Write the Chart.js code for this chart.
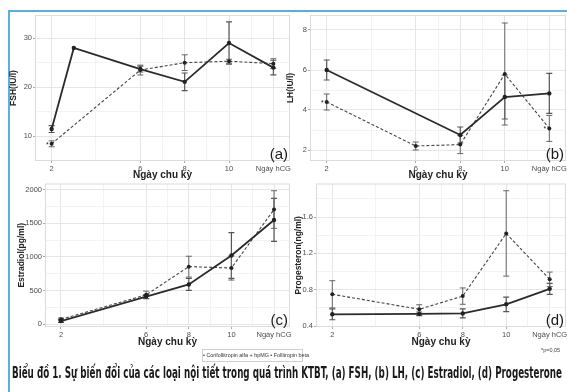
<!DOCTYPE html>
<html lang="vi">
<head>
    <meta charset="UTF-8">
    <title>Biểu đồ 1</title>
    <script src="https://cdn.jsdelivr.net/npm/chart.js"></script>
    <style>
        html, body {
            margin: 0;
            padding: 0;
            width: 567px;
            height: 392px;
            overflow: hidden;
            background: #fff;
            font-family: "Liberation Sans", Arial, sans-serif;
        }
        .frame {
            position: absolute;
            left: 8px;
            top: 10px;
            width: 600px;
            height: 400px;
            border-top: 2px solid #5aaee3;
            border-left: 2px solid #5aaee3;
        }
        canvas { position: absolute; }
        .legend {
            position: absolute;
            left: 202px;
            top: 349px;
            width: 99px;
            height: 11px;
            border: 1px solid #cfcfcf;
            font-size: 5.4px;
            line-height: 11px;
            text-align: center;
            color: #333;
            white-space: nowrap;
        }
        .pnote {
            position: absolute;
            left: 541px;
            top: 347px;
            font-size: 5.5px;
            color: #444;
            white-space: nowrap;
        }
        .caption {
            position: absolute;
            left: 12px;
            top: 364px;
            font-family: "DejaVu Sans Condensed", "Liberation Sans Narrow", sans-serif;
            font-weight: bold;
            font-size: 15px;
            color: #1a1a1a;
            white-space: nowrap;
            transform-origin: 0 0;
        }
    </style>
</head>
<body>
    <div class="frame"></div>
    <canvas id="fshChart" width="300" height="185" style="left:0;top:0"></canvas>
    <canvas id="lhChart" width="290" height="185" style="left:280px;top:0"></canvas>
    <canvas id="e2Chart" width="300" height="170" style="left:0;top:178px"></canvas>
    <canvas id="p4Chart" width="290" height="170" style="left:280px;top:178px"></canvas>

    <div class="legend">• Corifollitropin alfa + hpMG • Follitropin beta</div>
    <div class="pnote">*p=0,05</div>
    <div class="caption" id="caption">Biểu đồ 1. Sự biến đổi của các loại nội tiết trong quá trình KTBT, (a) FSH, (b) LH, (c) Estradiol, (d) Progesterone</div>

    <script>
        // x axis: days of the cycle, hCG day placed at 12
        const dayTicks = [2, 6, 8, 10, 12];
        const dayLabels = ['2', '6', '8', '10', 'Ngày hCG'];
        const dayMinor = [4, 7, 9, 11];

        // (a) FSH
        const fshSolidX = [2, 3, 6, 8, 10, 12];
        const fshSolid = [11.5, 28, 23.7, 21.1, 29.0, 24.0];
        const fshSolidErr = [0.7, null, 0.6, 1.8, 4.3, 1.5];
        const fshDashX = [2, 6, 8, 10, 12];
        const fshDash = [8.5, 23.5, 25.0, 25.3, 24.8];
        const fshDashErr = [0.6, 1.0, 1.6, 0.4, 1.0];
        const fshSig = [2];

        // (b) LH
        const lhSolidX = [2, 8, 10, 12];
        const lhSolid = [6.0, 2.75, 4.65, 4.83];
        const lhSolidErr = [0.5, 0.4, 1.1, 1.0];
        const lhDashX = [2, 6, 8, 10, 12];
        const lhDash = [4.4, 2.2, 2.27, 5.8, 3.08];
        const lhDashErr = [0.4, 0.2, 0.45, 2.55, 0.65];
        const lhSig = [2, 12];

        // (c) Estradiol
        const e2SolidX = [2, 6, 8, 10, 12];
        const e2Solid = [45, 410, 590, 1020, 1550];
        const e2SolidErr = [20, 30, 90, 340, 320];
        const e2DashX = [2, 6, 8, 10, 12];
        const e2Dash = [70, 435, 855, 835, 1705];
        const e2DashErr = [20, 55, 155, 180, 280];

        // (d) Progesterone
        const p4SolidX = [2, 6, 8, 10, 12];
        const p4Solid = [0.53, 0.535, 0.54, 0.64, 0.81];
        const p4SolidErr = [0.06, 0.02, 0.05, 0.08, 0.06];
        const p4DashX = [2, 6, 8, 10, 12];
        const p4Dash = [0.75, 0.585, 0.73, 1.42, 0.915];
        const p4DashErr = [0.15, 0.05, 0.09, 0.47, 0.08];

        const tickColor = '#4d4d4d';
        const majorGrid = '#e6e6e6';
        const minorGrid = '#f3f3f3';

        const toPoints = (xs, ys) => xs.map((x, i) => ({ x: x, y: ys[i] }));

        // error bars, significance stars, panel border and panel letter
        const panelExtras = {
            id: 'panelExtras',
            beforeDatasetsDraw(chart) {
                const { ctx, chartArea: a, scales } = chart;
                ctx.save();
                ctx.strokeStyle = '#dcdcdc';
                ctx.lineWidth = 1;
                ctx.strokeRect(a.left + 0.5, a.top + 0.5, a.right - a.left - 1, a.bottom - a.top - 1);
                chart.data.datasets.forEach((ds) => {
                    if (!ds.err) return;
                    ctx.strokeStyle = ds.errColor;
                    ctx.lineWidth = ds.errWidth;
                    ds.data.forEach((p, i) => {
                        const e = ds.err[i];
                        if (e == null) return;
                        const px = scales.x.getPixelForValue(p.x);
                        const lo = scales.y.getPixelForValue(p.y - e);
                        const hi = scales.y.getPixelForValue(p.y + e);
                        ctx.beginPath();
                        ctx.moveTo(px, lo); ctx.lineTo(px, hi);
                        ctx.moveTo(px - 3, lo); ctx.lineTo(px + 3, lo);
                        ctx.moveTo(px - 3, hi); ctx.lineTo(px + 3, hi);
                        ctx.stroke();
                    });
                });
                ctx.restore();
            },
            afterDatasetsDraw(chart, args, opts) {
                const { ctx, chartArea: a, scales } = chart;
                ctx.save();
                ctx.fillStyle = '#222';
                ctx.font = '7px "Liberation Sans", Arial';
                ctx.textAlign = 'right';
                ctx.textBaseline = 'middle';
                chart.data.datasets.forEach((ds) => {
                    (ds.sig || []).forEach((sx) => {
                        const p = ds.data.find(d => d.x === sx);
                        if (!p) return;
                        ctx.fillText('*', scales.x.getPixelForValue(p.x) - 3, scales.y.getPixelForValue(p.y) + 1);
                    });
                });
                ctx.font = '15px "Liberation Sans", Arial';
                ctx.textBaseline = 'bottom';
                ctx.fillStyle = '#1a1a1a';
                ctx.fillText(opts.letter, a.right - 2, a.bottom + 1);
                ctx.restore();
            }
        };

        const makePanel = (canvasId, p) => {
            const yAll = p.yTicks.concat(p.yMinor).sort((a, b) => a - b);
            const xAll = dayTicks.concat(dayMinor).sort((a, b) => a - b);
            return new Chart(document.getElementById(canvasId), {
                type: 'scatter',
                data: {
                    datasets: [
                        {
                            label: 'Corifollitropin alfa + hpMG',
                            data: toPoints(p.solidX, p.solid),
                            err: p.solidErr,
                            errColor: '#555',
                            errWidth: 1.2,
                            showLine: true,
                            borderColor: '#2b2b2b',
                            backgroundColor: '#222',
                            borderWidth: 1.8,
                            pointRadius: 2.2,
                            pointBorderWidth: 0
                        },
                        {
                            label: 'Follitropin beta',
                            data: toPoints(p.dashX, p.dash),
                            err: p.dashErr,
                            errColor: '#666',
                            errWidth: 1,
                            sig: p.sig,
                            showLine: true,
                            borderColor: '#444',
                            backgroundColor: '#222',
                            borderWidth: 1.1,
                            borderDash: [3, 2],
                            pointRadius: 2,
                            pointBorderWidth: 0
                        }
                    ]
                },
                options: {
                    responsive: false,
                    animation: false,
                    devicePixelRatio: 1,
                    layout: { padding: p.pad },
                    plugins: {
                        legend: { display: false },
                        tooltip: { enabled: false },
                        panelExtras: { letter: p.letter }
                    },
                    scales: {
                        x: {
                            type: 'linear',
                            min: 1.25,
                            max: 12.75,
                            afterBuildTicks: (s) => { s.ticks = xAll.map(v => ({ value: v })); },
                            afterFit: (s) => { s.height = p.xH; },
                            ticks: {
                                autoSkip: false,
                                maxRotation: 0,
                                padding: 1,
                                color: tickColor,
                                font: { size: 7.5 },
                                callback: (v) => {
                                    const i = dayTicks.indexOf(v);
                                    return i < 0 ? '' : dayLabels[i];
                                }
                            },
                            grid: {
                                tickLength: 2,
                                color: (c) => dayTicks.includes(c.tick && c.tick.value) ? majorGrid : minorGrid,
                                tickColor: (c) => dayTicks.includes(c.tick && c.tick.value) ? '#aaa' : 'rgba(0,0,0,0)'
                            },
                            border: { display: false },
                            title: {
                                display: true,
                                text: 'Ngày chu kỳ',
                                color: '#222',
                                font: { size: 10, weight: 'bold' },
                                padding: { top: 0, bottom: p.xTitlePad }
                            }
                        },
                        y: {
                            min: p.yMin,
                            max: p.yMax,
                            afterBuildTicks: (s) => { s.ticks = yAll.map(v => ({ value: v })); },
                            afterFit: (s) => { s.width = p.yW; },
                            ticks: {
                                padding: 1,
                                color: tickColor,
                                font: { size: 7.5 },
                                callback: (v) => {
                                    const i = p.yTicks.indexOf(v);
                                    return i < 0 ? '' : p.yLabels[i];
                                }
                            },
                            grid: {
                                tickLength: 2,
                                color: (c) => p.yTicks.includes(c.tick && c.tick.value) ? majorGrid : minorGrid,
                                tickColor: (c) => p.yTicks.includes(c.tick && c.tick.value) ? '#aaa' : 'rgba(0,0,0,0)'
                            },
                            border: { display: false },
                            title: {
                                display: true,
                                text: p.yTitle,
                                color: '#222',
                                font: { size: 8.5, weight: 'bold' },
                                padding: { top: p.yTitlePad, bottom: 0 }
                            }
                        }
                    }
                },
                plugins: [panelExtras]
            });
        };

        makePanel('fshChart', {
            solidX: fshSolidX, solid: fshSolid, solidErr: fshSolidErr,
            dashX: fshDashX, dash: fshDash, dashErr: fshDashErr, sig: fshSig,
            yMin: 5, yMax: 34.7, yTicks: [10, 20, 30], yLabels: ['10', '20', '30'], yMinor: [15, 25],
            yTitle: 'FSH(IU/l)', yTitlePad: 9, yW: 35, xH: 24, xTitlePad: 4,
            pad: { top: 15, right: 10, left: 0, bottom: 0 }, letter: '(a)'
        });

        makePanel('lhChart', {
            solidX: lhSolidX, solid: lhSolid, solidErr: lhSolidErr,
            dashX: lhDashX, dash: lhDash, dashErr: lhDashErr, sig: lhSig,
            yMin: 1.45, yMax: 8.75, yTicks: [2, 4, 6, 8], yLabels: ['2', '4', '6', '8'], yMinor: [3, 5, 7],
            yTitle: 'LH(IU/l)', yTitlePad: 6, yW: 30, xH: 24, xTitlePad: 4,
            pad: { top: 15, right: 2, left: 0, bottom: 0 }, letter: '(b)'
        });

        makePanel('e2Chart', {
            solidX: e2SolidX, solid: e2Solid, solidErr: e2SolidErr,
            dashX: e2DashX, dash: e2Dash, dashErr: e2DashErr, sig: [],
            yMin: -44, yMax: 2093, yTicks: [0, 500, 1000, 1500, 2000],
            yLabels: ['0', '500', '1000', '1500', '2000'], yMinor: [250, 750, 1250, 1750],
            yTitle: 'Estradiol(pg/ml)', yTitlePad: 17, yW: 45, xH: 21, xTitlePad: 0,
            pad: { top: 4, right: 10, left: 0, bottom: 0 }, letter: '(c)'
        });

        makePanel('p4Chart', {
            solidX: p4SolidX, solid: p4Solid, solidErr: p4SolidErr,
            dashX: p4DashX, dash: p4Dash, dashErr: p4DashErr, sig: [],
            yMin: 0.39, yMax: 1.97, yTicks: [0.4, 0.8, 1.2, 1.6],
            yLabels: ['0.4', '0.8', '1.2', '1.6'], yMinor: [0.6, 1.0, 1.4, 1.8],
            yTitle: 'Progesteron(ng/ml)', yTitlePad: 14, yW: 36, xH: 21, xTitlePad: 0,
            pad: { top: 4, right: 3, left: 0, bottom: 0 }, letter: '(d)'
        });

        // stretch the caption across the frame like the printed figure
        const cap = document.getElementById('caption');
        const capW = cap.getBoundingClientRect().width;
        cap.style.transform = 'scaleX(' + (550 / capW) + ')';
    </script>
</body>
</html>
